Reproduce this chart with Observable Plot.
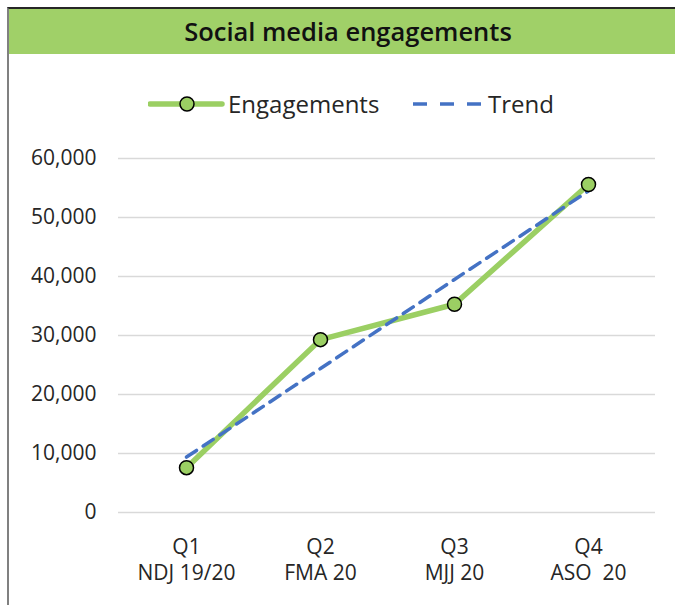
<!DOCTYPE html>
<html><head><meta charset="utf-8">
<script src="https://cdn.jsdelivr.net/npm/d3@7"></script>
<script src="https://cdn.jsdelivr.net/npm/@observablehq/plot@0.6"></script>
<style>
body{margin:0;width:675px;height:605px;overflow:hidden;background:#fff;font-family:"Open Sans",sans-serif;position:relative}
#frame{position:absolute;left:7px;top:7px;width:720px;height:700px;border-top:2px solid #262626;border-left:2px solid #808080;box-sizing:border-box}
#title{position:absolute;left:9px;top:9px;width:678px;height:45px;background:#A0D068;text-align:center;line-height:45px;font-size:25.5px;font-weight:600;color:#111}
.lg{position:absolute;top:90px;height:28px;line-height:28px;font-size:24px;color:#262626;white-space:nowrap}
#chart{position:absolute;left:0;top:130px}
</style></head>
<body>
<div id="frame"></div>
<div id="title">Social media engagements</div>
<svg class="lg" style="left:148px;width:80px" height="28">
  <line x1="2" x2="74" y1="14" y2="14" stroke="#9BCF63" stroke-width="5.5" stroke-linecap="round"/>
  <circle cx="39" cy="14" r="7" fill="#9BCF63" stroke="#000" stroke-width="1.5"/>
</svg>
<div class="lg" style="left:228px">Engagements</div>
<svg class="lg" style="left:410px;width:78px" height="28">
  <line x1="3" x2="74" y1="14" y2="14" stroke="#4472C4" stroke-width="3.5" stroke-dasharray="14,13" stroke-linecap="butt"/>
</svg>
<div class="lg" style="left:488px">Trend</div>
<div id="chart"></div>
<script>
const quarters = ["Q1\nNDJ 19/20", "Q2\nFMA 20", "Q3\nMJJ 20", "Q4\nASO\u00a0 20"];
const engagements = [7600, 29300, 35300, 55600];
const trend = [9400, 24400, 39500, 54500];
const yTicks = [0, 10000, 20000, 30000, 40000, 50000, 60000];

const data = quarters.map((q, i) => ({q, eng: engagements[i], trend: trend[i]}));

const chart = Plot.plot({
  width: 675, height: 475,
  marginLeft: 118, marginRight: 20, marginTop: 28, marginBottom: 93,
  style: {fontFamily: "Open Sans", fontSize: "21px", color: "#262626", background: "transparent"},
  x: {type: "point", domain: quarters, padding: 0.5},
  y: {domain: [0, 60000]},
  marks: [
    Plot.gridY(yTicks, {stroke: "#d9d9d9", strokeOpacity: 1, strokeWidth: 1.5}),
    Plot.axisY(yTicks, {tickSize: 0, tickPadding: 22, tickFormat: d3.format(","), fontSize: 21, label: null}),
    Plot.axisX({tickSize: 0, tickPadding: 24, lineHeight: 1.2, fontSize: 21, label: null}),
    Plot.line(data, {x: "q", y: "eng", stroke: "#9BCF63", strokeWidth: 5.5}),
    Plot.line(data, {x: "q", y: "trend", stroke: "#4472C4", strokeWidth: 3.5, strokeDasharray: "12,8"}),
    Plot.dot(data, {x: "q", y: "eng", r: 7, fill: "#9BCF63", stroke: "#000", strokeWidth: 1.5})
  ]
});
document.getElementById("chart").appendChild(chart);
</script>
</body></html>
